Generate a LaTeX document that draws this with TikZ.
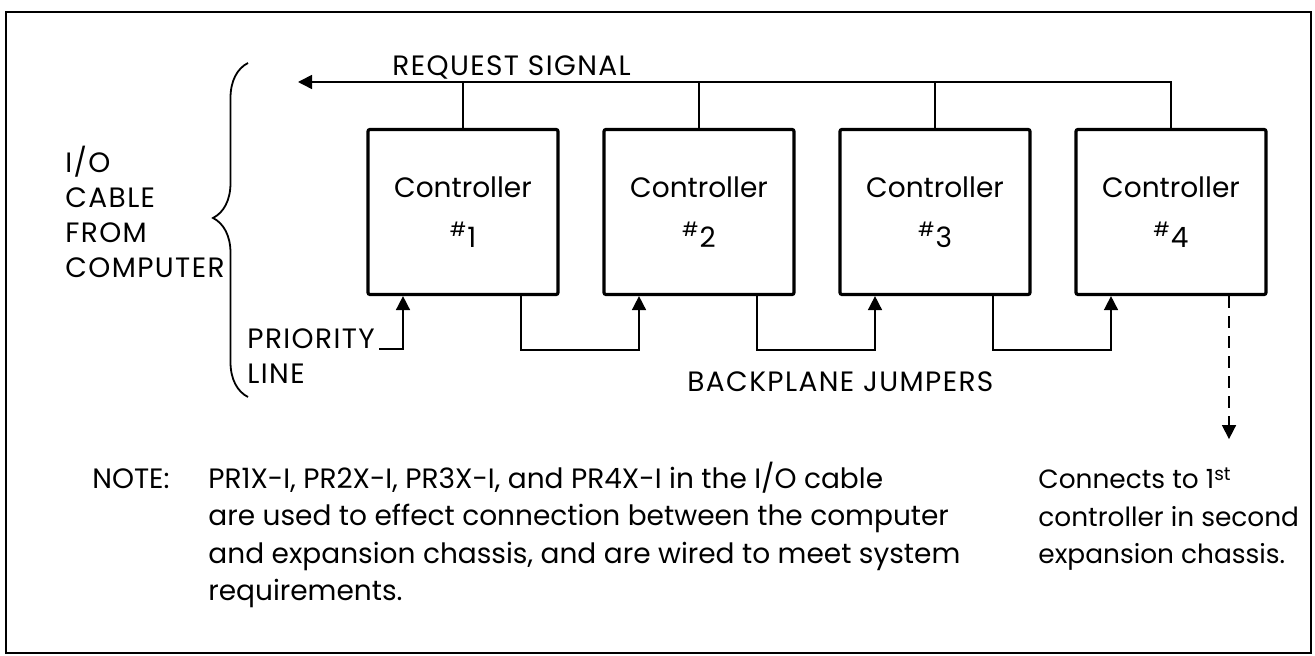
\documentclass[tikz,border=0pt]{standalone}
\usepackage{fontspec}
\setmainfont{Poppins}
\usetikzlibrary{arrows.meta,calc,decorations.pathreplacing}

\tikzstyle{ctrl}=[rectangle,draw,line width=1.6pt,rounded corners=1pt,minimum width=95pt,minimum height=82.5pt,inner sep=0pt,align=center,font=\fontsize{14}{18}\selectfont]
\tikzstyle{lbl}=[inner sep=0pt,font=\fontsize{14}{17.5}\selectfont\addfontfeature{LetterSpace=5},align=left]
\tikzstyle{nlbl}=[inner sep=0pt,font=\fontsize{14}{18.5}\selectfont,align=left]
\tikzstyle{wire}=[line width=0.8pt]
\tikzstyle{arr}=[-{Triangle[length=7pt,width=7pt]}]

\begin{document}
\begin{tikzpicture}[x=0.5pt,y=-0.5pt]
    \useasboundingbox (0,0) rectangle (1315,656);
    \draw[line width=0.75pt] (6,12) rectangle (1311,653);
    \draw (463,212) node[ctrl] (c1) {Controller\\[7pt]\textsuperscript{\#}1};
    \draw (699,212) node[ctrl] (c2) {Controller\\[7pt]\textsuperscript{\#}2};
    \draw (935,212) node[ctrl] (c3) {Controller\\[7pt]\textsuperscript{\#}3};
    \draw (1171,212) node[ctrl] (c4) {Controller\\[7pt]\textsuperscript{\#}4};
    \coordinate (req) at (298,82);
    \coordinate (next) at ($(c4.south)+(58,143)$);
    % request signal bus
    \draw[wire,arr] (c4.north) |- (req);
    \draw[wire] (c1.north) -- (c1.north |- req);
    \draw[wire] (c2.north) -- (c2.north |- req);
    \draw[wire] (c3.north) -- (c3.north |- req);
    % backplane jumpers
    \draw[wire,arr] ($(c1.south)+(58,0)$) -- ++(0,54) -| ($(c2.south)+(-60,0)$);
    \draw[wire,arr] ($(c2.south)+(58,0)$) -- ++(0,54) -| ($(c3.south)+(-60,0)$);
    \draw[wire,arr] ($(c3.south)+(58,0)$) -- ++(0,54) -| ($(c4.south)+(-60,0)$);
    \draw[wire,arr,dash pattern=on 6pt off 4pt] ($(c4.south)+(58,0)$) -- (next);
    % labels
    \draw (392,76) node[lbl,anchor=base west] (reqlbl) {REQUEST SIGNAL};
    \draw (687,392) node[lbl,anchor=base west] (jmp) {BACKPLANE JUMPERS};
    \draw (65,278) node[lbl,anchor=base west] (cable) {I/O\\CABLE\\FROM\\COMPUTER};
    \draw (247,349) node[lbl,anchor=base west] (prio) {PRIORITY};
    \draw (247,384) node[lbl,anchor=base west] (line) {LINE};
    \draw[wire,arr] ([xshift=2pt]prio.base east) -| ($(c1.south)+(-60,0)$);
    \draw[line width=0.9pt,decorate,decoration={brace,amplitude=17.5pt,aspect=0.536}] (248,397) -- (248,63);
    \draw (92,489) node[nlbl,anchor=base west] (note) {NOTE:};
    \draw (208,600) node[nlbl,anchor=base west] (notetxt) {PR1X-I, PR2X-I, PR3X-I, and PR4X-I in the I/O cable\\are used to effect connection between the computer\\and expansion chassis, and are wired to meet system\\requirements.};
    \draw (1038,563) node[nlbl,anchor=base west,font=\fontsize{13.2}{18.5}\selectfont] (conn) {Connects to 1\textsuperscript{st}\\controller in second\\expansion chassis.};
\end{tikzpicture}
\end{document}
